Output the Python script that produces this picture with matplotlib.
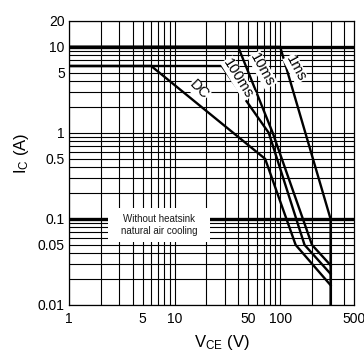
import matplotlib
matplotlib.use("Agg")
import matplotlib.pyplot as plt
from matplotlib.patches import Rectangle

plt.rcParams['font.family'] = ['Liberation Sans', 'DejaVu Sans']
plt.rcParams['mathtext.default'] = 'regular'

# safe operating area curves (VCE in V, IC in A)
dc_v = [1, 6, 72, 140, 300]
dc_i = [6, 6, 0.5, 0.05, 0.017]
ms100_v = [1, 28, 78, 170, 300]
ms100_i = [6, 6, 1.0, 0.05, 0.023]
ms10_v = [1, 40, 85, 200, 300]
ms10_i = [10, 10, 1.0, 0.05, 0.029]
ms1_v = [1, 100, 300, 300]
ms1_i = [10, 10, 0.1, 0.01]

xticks = [1, 5, 10, 50, 100, 500]
xtick_labels = ['1', '5', '10', '50', '100', '500']
yticks = [0.01, 0.05, 0.1, 0.5, 1, 5, 10, 20]
ytick_labels = ['0.01', '0.05', '0.1', '0.5', '1', '5', '10', '20']

fig = plt.figure(figsize=(3.64, 3.51), dpi=100)
ax = fig.add_axes([69/364, 46/351, 285/364, 284/351])
ax.set_xscale('log')
ax.set_yscale('log')
ax.set_xlim(1, 500)
ax.set_ylim(0.01, 20)

# grid lines drawn by hand (1-2-3...9 per decade)
for dec in [1, 10, 100]:
    for m in range(1, 10):
        v = dec * m
        if v < 500:
            ax.axvline(v, color='black', lw=0.8, zorder=1)
for dec in [0.01, 0.1, 1, 10]:
    for m in range(1, 10):
        v = dec * m
        if v <= 20:
            thick = v in (0.1, 10)
            ax.axhline(v, color='black', lw=2.4 if thick else 0.8, zorder=1)

for v, i in [(dc_v, dc_i), (ms100_v, ms100_i), (ms10_v, ms10_i), (ms1_v, ms1_i)]:
    ax.plot(v, i, color='black', lw=1.7, zorder=3, solid_joinstyle='miter')

lbl_box = dict(facecolor='white', edgecolor='none', pad=0.3)
ax.text(16.9, 3.15, 'DC', rotation=-45, ha='center', va='center', fontsize=10.5,
        bbox=lbl_box, zorder=4)
ax.text(40, 4.3, '100ms', rotation=-58, ha='center', va='center', fontsize=10.5,
        bbox=lbl_box, zorder=4)
ax.text(68, 5.4, '10ms', rotation=-61, ha='center', va='center', fontsize=10.5,
        bbox=lbl_box, zorder=4)
ax.text(140, 5.6, '1ms', rotation=-62, ha='center', va='center', fontsize=10.5,
        bbox=lbl_box, zorder=4)

# white note box
ax.add_patch(Rectangle((0.137, 0.222), 0.358, 0.12, transform=ax.transAxes,
                       facecolor='white', edgecolor='none', zorder=2))
ax.text(0.316, 0.282, 'Without heatsink\nnatural air cooling', transform=ax.transAxes,
        ha='center', va='center', fontsize=7, color='#1a1a1a', zorder=4)

ax.set_xticks(xticks)
ax.set_xticklabels(xtick_labels)
ax.set_yticks(yticks)
ax.set_yticklabels(ytick_labels)
ax.minorticks_off()
ax.tick_params(axis='both', length=0, labelsize=10)
ax.tick_params(axis='x', pad=5)
ax.tick_params(axis='y', pad=3)
for s in ax.spines.values():
    s.set_linewidth(0.9)
    s.set_zorder(5)

ax.set_xlabel('V$_{CE}$ (V)', fontsize=12)
ax.set_ylabel('I$_C$ (A)', fontsize=12)
ax.xaxis.set_label_coords(0.537, -0.1)
ax.yaxis.set_label_coords(-0.135, 0.535)

fig.savefig('out.png', dpi=100)
